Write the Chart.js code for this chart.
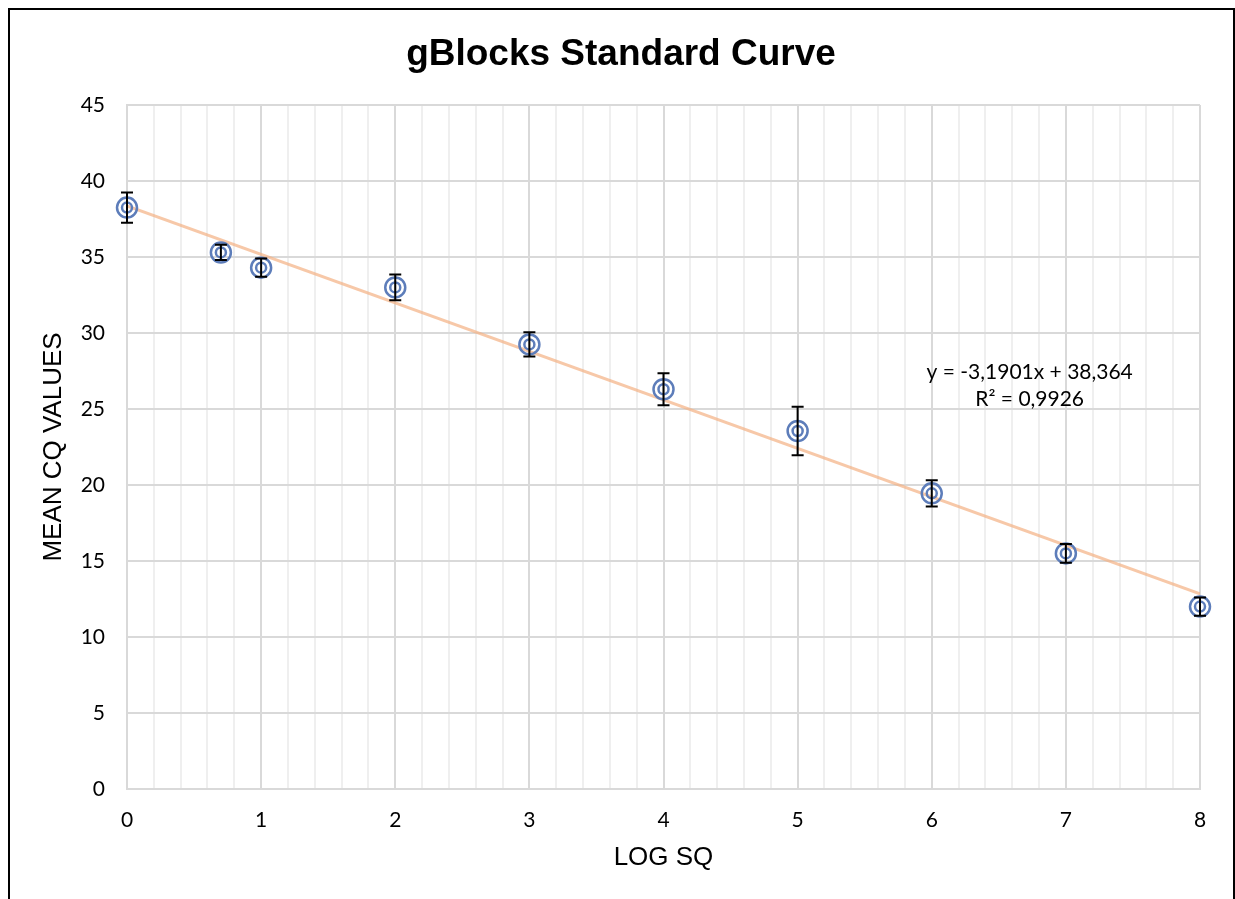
<!DOCTYPE html>
<html>
<head>
<meta charset="utf-8">
<script src="https://cdn.jsdelivr.net/npm/chart.js@4"></script>
<style>
  html, body { margin: 0; padding: 0; background: #fff; overflow: hidden; }
  #frame { position: absolute; left: 8px; top: 8px; width: 1227px; height: 1000px; border: 2px solid #000; box-sizing: border-box; }
  #wrap { position: absolute; left: 0; top: 0; width: 1235px; height: 899px; }
</style>
</head>
<body>
<div id="frame"></div>
<div id="wrap"><canvas id="myChart"></canvas></div>
<script>
/* data */
const logSq = [0, 0.7, 1, 2, 3, 4, 5, 6, 7, 8];
const meanCq = [38.25, 35.3, 34.3, 33.0, 29.25, 26.3, 23.55, 19.45, 15.5, 12.0];
const cqErr = [1.0, 0.5, 0.6, 0.85, 0.8, 1.05, 1.6, 0.87, 0.62, 0.6];
const trendX = [0, 8];
const trendY = [38.364, 12.843];
const trendText = ['y = -3,1901x + 38,364', 'R\u00b2 = 0,9926'];
const chartTitle = 'gBlocks Standard Curve';

const blue = '#5d7dba';
const tickFont = { family: 'Lato', size: 21 };
const titleFont = { family: 'Liberation Sans', size: 26 };

const points = logSq.map((x, i) => ({ x: x, y: meanCq[i] }));

/* error bars on top of the markers */
const errorBars = {
  id: 'errorBars',
  afterDatasetsDraw(chart) {
    const ctx = chart.ctx;
    const xs = chart.scales.x, ys = chart.scales.y;
    ctx.save();
    ctx.strokeStyle = '#000';
    ctx.lineWidth = 2;
    logSq.forEach((x, i) => {
      const px = xs.getPixelForValue(x);
      const top = ys.getPixelForValue(meanCq[i] + cqErr[i]);
      const bot = ys.getPixelForValue(meanCq[i] - cqErr[i]);
      ctx.beginPath();
      ctx.moveTo(px, top); ctx.lineTo(px, bot);
      ctx.moveTo(px - 6, top); ctx.lineTo(px + 6, top);
      ctx.moveTo(px - 6, bot); ctx.lineTo(px + 6, bot);
      ctx.stroke();
    });
    ctx.restore();
  }
};

/* title and trendline label */
const texts = {
  id: 'texts',
  afterDraw(chart) {
    const ctx = chart.ctx;
    ctx.save();
    ctx.fillStyle = '#000';
    ctx.textAlign = 'center';
    ctx.textBaseline = 'middle';
    ctx.font = 'bold 37px "Liberation Sans"';
    ctx.fillText(chartTitle, 621, 55);
    const px = chart.scales.x.getPixelForValue(6.73);
    const py = chart.scales.y.getPixelForValue(27.45);
    ctx.font = '21px Lato';
    ctx.fillText(trendText[0], px, py);
    ctx.fillText(trendText[1], px, py + 27);
    ctx.restore();
  }
};

const isInt = v => Math.abs(v - Math.round(v)) < 1e-6;

const config = {
  type: 'scatter',
  data: {
    datasets: [
      {
        label: 'trend',
        type: 'line',
        data: trendX.map((x, i) => ({ x: x, y: trendY[i] })),
        borderColor: 'rgba(244,177,131,0.7)',
        borderWidth: 3,
        pointRadius: 0,
        fill: false,
        order: 3
      },
      {
        label: 'outer',
        data: points,
        pointStyle: 'circle',
        pointRadius: 10,
        borderWidth: 2.5,
        borderColor: blue,
        backgroundColor: 'rgba(0,0,0,0)',
        clip: false,
        order: 2
      },
      {
        label: 'inner',
        data: points,
        pointStyle: 'circle',
        pointRadius: 5,
        borderWidth: 2.5,
        borderColor: blue,
        backgroundColor: 'rgba(0,0,0,0)',
        clip: false,
        order: 1
      }
    ]
  },
  options: {
    responsive: false,
    animation: false,
    layout: { padding: { left: 0, right: 35, top: 105, bottom: 0 } },
    plugins: {
      legend: { display: false },
      tooltip: { enabled: false },
      title: { display: false }
    },
    scales: {
      x: {
        type: 'linear',
        min: 0,
        max: 8,
        afterBuildTicks(axis) {
          const t = [];
          for (let i = 0; i <= 40; i++) t.push({ value: i / 5 });
          axis.ticks = t;
        },
        afterFit(axis) { axis.height = 110; },
        ticks: {
          autoSkip: false,
          maxRotation: 0,
          padding: 19,
          color: '#000',
          font: tickFont,
          callback: v => isInt(v) ? String(Math.round(v)) : ''
        },
        grid: {
          drawTicks: false,
          color: c => isInt(c.tick.value) ? '#d9d9d9' : '#efefef',
          lineWidth: 2
        },
        border: { color: '#d9d9d9', width: 2 },
        title: {
          display: true,
          text: 'LOG SQ',
          color: '#000',
          font: titleFont,
          padding: { top: 0, bottom: 26 }
        }
      },
      y: {
        min: 0,
        max: 45,
        afterFit(axis) { axis.width = 127; },
        ticks: {
          stepSize: 5,
          padding: 22,
          color: '#000',
          font: tickFont
        },
        grid: { drawTicks: false, color: '#d9d9d9', lineWidth: 2 },
        border: { color: '#d9d9d9', width: 2 },
        title: {
          display: true,
          text: 'MEAN CQ VALUES',
          color: '#000',
          font: titleFont,
          padding: { top: 38, bottom: 0 }
        }
      }
    }
  },
  plugins: [errorBars, texts]
};

const canvas = document.getElementById('myChart');
canvas.width = 1235;
canvas.height = 899;
const myChart = new Chart(canvas, config);
</script>
</body>
</html>
